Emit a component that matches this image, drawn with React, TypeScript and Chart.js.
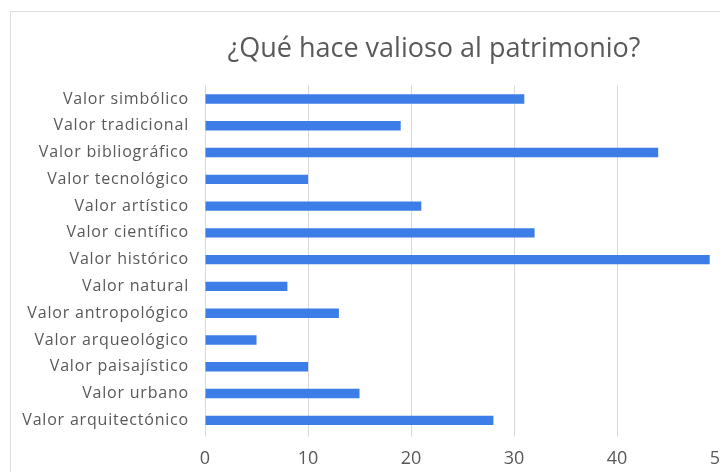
import React, { useEffect, useRef } from "react";
import { Chart, registerables } from "chart.js";

Chart.register(...registerables);

const title = "¿Qué hace valioso al patrimonio?";
const categories = [
  "Valor simbólico",
  "Valor tradicional",
  "Valor bibliográfico",
  "Valor tecnológico",
  "Valor artístico",
  "Valor científico",
  "Valor histórico",
  "Valor natural",
  "Valor antropológico",
  "Valor arqueológico",
  "Valor paisajístico",
  "Valor urbano",
  "Valor arquitectónico",
];
const values = [31, 19, 44, 10, 21, 32, 49, 8, 13, 5, 10, 15, 28];
const xMin = 0;
const xMax = 50;
const xStep = 10;

const GRAY_TEXT = "#595959";
const GRID = "#d9d9d9";
const BAR = "#3d7de8";

export default function App() {
  const ref = useRef<HTMLCanvasElement | null>(null);

  useEffect(() => {
    if (!ref.current) return;
    const chart = new Chart(ref.current, {
      type: "bar",
      data: {
        labels: categories,
        datasets: [
          {
            data: values,
            backgroundColor: BAR,
            borderWidth: 0,
            barPercentage: 0.35,
            categoryPercentage: 1,
            yAxisID: "y",
          },
        ],
      },
      options: {
        indexAxis: "y",
        responsive: false,
        animation: false,
        layout: { padding: 0 },
        plugins: {
          legend: { display: false },
          tooltip: { enabled: false },
          title: {
            display: true,
            text: title,
            color: GRAY_TEXT,
            font: { family: "'Open Sans'", size: 27, weight: "normal" },
            padding: { top: 21, bottom: 20.2 },
          },
        },
        scales: {
          x: {
            type: "linear",
            min: xMin,
            max: xMax,
            ticks: {
              stepSize: xStep,
              color: GRAY_TEXT,
              font: { family: "'Open Sans'", size: 18 },
              padding: 11,
            },
            grid: {
              color: GRID,
              drawTicks: true,
              tickLength: 3,
              tickColor: GRID,
              lineWidth: 1,
            },
            border: { display: false },
            afterFit: (s: any) => {
              s.height = 38.3;
            },
          },
          y: {
            type: "category",
            position: "left",
            ticks: {
              color: GRAY_TEXT,
              font: { family: "'Open Sans'", size: 16 },
              padding: 16,
            },
            grid: { display: false, drawTicks: false },
            border: { display: true, color: GRID },
            afterFit: (s: any) => {
              s.width = 194;
              if (!s.__spaced) {
                s.__spaced = true;
                const orig = s.drawLabels.bind(s);
                s.drawLabels = (area: any) => {
                  const ctx = s.ctx as any;
                  ctx.save();
                  ctx.letterSpacing = "0.8px";
                  orig(area);
                  ctx.restore();
                };
              }
            },
          },
          yR: {
            type: "linear",
            position: "right",
            display: true,
            ticks: { display: false },
            grid: { display: false, drawTicks: false },
            border: { display: false },
            afterFit: (s: any) => {
              s.width = 137;
            },
          },
        },
      },
    });
    return () => chart.destroy();
  }, []);

  return (
    <div
      style={{
        position: "fixed",
        left: 0,
        top: 0,
        width: 720,
        height: 472,
        overflow: "hidden",
        background: "#fff",
      }}
    >
      <div
        style={{
          position: "absolute",
          left: 10,
          top: 11,
          border: "1px solid #dedede",
          width: 846,
          height: 470,
          background: "#fff",
        }}
      >
        <canvas ref={ref} width={846} height={460} style={{ display: "block" }} />
      </div>
    </div>
  );
}
